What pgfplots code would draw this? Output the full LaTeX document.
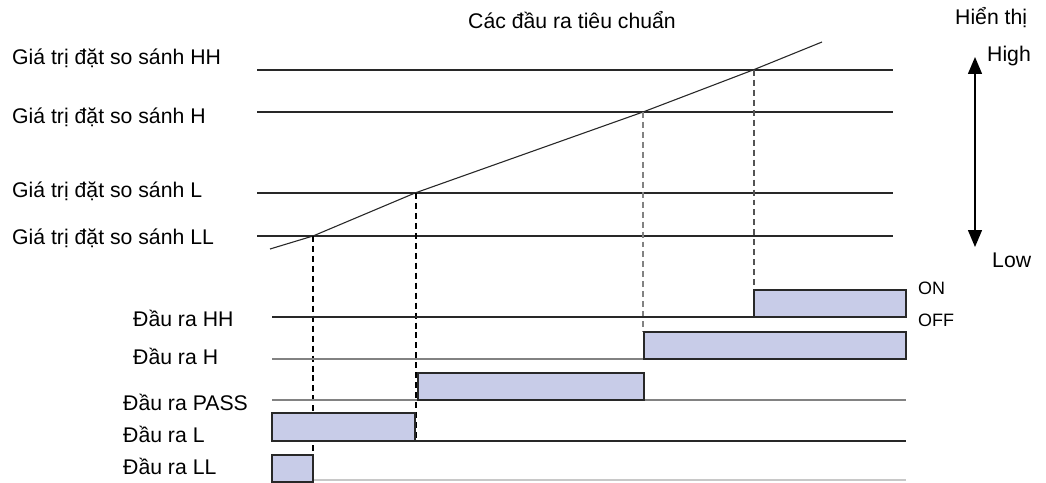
\documentclass[border=0pt]{standalone}
\usepackage{pgfplots}
\pgfplotsset{compat=1.18}
\usetikzlibrary{arrows.meta}
\usepackage{fontspec}
\setmainfont{Liberation Sans}
\definecolor{barfill}{RGB}{200,204,232}
\definecolor{dk}{RGB}{40,40,40}
\definecolor{md}{RGB}{130,130,130}
\definecolor{lt}{RGB}{200,200,200}
\begin{document}
\begin{tikzpicture}
\begin{axis}[
  scale only axis, width=1046bp, height=481bp,
  xmin=0, xmax=1046, ymin=0, ymax=481, y dir=reverse,
  hide axis, clip=false,
  every axis plot/.append style={no markers},
]
\path (axis cs:0,0) rectangle (axis cs:1046,481);
% comparison setting lines
\addplot[dk, line width=1.4pt] coordinates {(257,70) (893,70)};
\addplot[dk, line width=1.4pt] coordinates {(257,112) (893,112)};
\addplot[dk, line width=1.4pt] coordinates {(257,193) (893,193)};
\addplot[dk, line width=1.4pt] coordinates {(257,236) (893,236)};
% measured value (diagonal)
\addplot[dk, line width=1.1pt] coordinates {(270,249) (313,236) (415,193) (643,112) (753,70) (822,42)};
% vertical dashed lines
\addplot[black, line width=1.4pt, dash pattern=on 6pt off 4pt] coordinates {(313,236) (313,481)};
\addplot[black, line width=1.4pt, dash pattern=on 6pt off 4pt] coordinates {(416,193) (416,442)};
\addplot[md, line width=1.4pt, dash pattern=on 6pt off 4pt] coordinates {(643,112) (643,332)};
\addplot[dk!80, line width=1.4pt, dash pattern=on 6pt off 4pt] coordinates {(754,70) (754,290)};
% output baselines
\addplot[dk, line width=1.4pt] coordinates {(272,317) (906,317)};
\addplot[md, line width=1.4pt] coordinates {(272,359) (906,359)};
\addplot[md, line width=1.4pt] coordinates {(272,400) (906,400)};
\addplot[dk, line width=1.4pt] coordinates {(272,441) (906,441)};
\addplot[lt, line width=1.4pt] coordinates {(272,480) (906,480)};
% output bars
\addplot[draw=dk, fill=barfill, line width=1.4pt] coordinates {(754,317) (754,290) (906,290) (906,317)} -- cycle;
\addplot[draw=dk, fill=barfill, line width=1.4pt] coordinates {(644,359) (644,332) (906,332) (906,359)} -- cycle;
\addplot[draw=dk, fill=barfill, line width=1.4pt] coordinates {(418,400) (418,373) (644,373) (644,400)} -- cycle;
\addplot[draw=dk, fill=barfill, line width=1.4pt] coordinates {(272,441) (272,413) (415,413) (415,441)} -- cycle;
\addplot[draw=dk, fill=barfill, line width=1.4pt] coordinates {(272,482) (272,455) (313,455) (313,482)} -- cycle;
% display arrow
\addplot[black, line width=1.4pt, {Triangle[length=17pt,width=14pt]}-{Triangle[length=17pt,width=14pt]}] coordinates {(975,57) (975,247)};
% texts
\begin{scope}[every node/.style={inner sep=0pt, font=\fontsize{21.3}{25}\selectfont}]
\node[anchor=center] at (axis cs:572,20) {Các đầu ra tiêu chuẩn};
\node[anchor=west] at (axis cs:955,18) {Hiển thị};
\node[anchor=west] at (axis cs:987,56) {High};
\node[anchor=west] at (axis cs:992,260) {Low};
\node[anchor=west] at (axis cs:12,58) {Giá trị đặt so sánh HH};
\node[anchor=west] at (axis cs:12,117) {Giá trị đặt so sánh H};
\node[anchor=west] at (axis cs:12,191) {Giá trị đặt so sánh L};
\node[anchor=west] at (axis cs:12,238) {Giá trị đặt so sánh LL};
\node[anchor=west] at (axis cs:133,318) {Đầu ra HH};
\node[anchor=west] at (axis cs:133,356) {Đầu ra H};
\node[anchor=west] at (axis cs:123,402) {Đầu ra PASS};
\node[anchor=west] at (axis cs:123,434) {Đầu ra L};
\node[anchor=west] at (axis cs:123,466) {Đầu ra LL};
\end{scope}
\begin{scope}[every node/.style={inner sep=0pt, font=\fontsize{18}{21}\selectfont}]
\node[anchor=west] at (axis cs:918,288) {ON};
\node[anchor=west] at (axis cs:918,320) {OFF};
\end{scope}
\end{axis}
\end{tikzpicture}
\end{document}
